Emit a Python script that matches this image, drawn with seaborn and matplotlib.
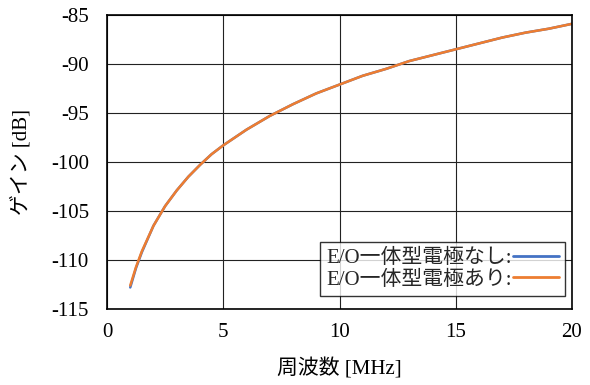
import matplotlib
matplotlib.use("Agg")
import matplotlib.pyplot as plt
import pandas as pd
import seaborn as sns

# Frequency sweep (MHz) and measured gain (dB) for both electrode types
freq_mhz = [1.0, 1.25, 1.5, 2.0, 2.5, 3.0, 3.5, 4.0, 4.5, 5.0, 6.0, 7.0, 8.0, 9.0,
            10.0, 11.0, 12.0, 13.0, 14.0, 15.0, 16.0, 17.0, 18.0, 19.0, 20.0]
gain_without = [-112.8, -110.8, -109.2, -106.5, -104.5, -102.9, -101.5, -100.3, -99.2,
                -98.3, -96.7, -95.3, -94.1, -93.0, -92.1, -91.2, -90.5, -89.7, -89.1,
                -88.5, -87.9, -87.3, -86.8, -86.4, -85.9]
gain_with = [-112.6, -110.7, -109.1, -106.5, -104.5, -102.9, -101.5, -100.3, -99.2,
             -98.3, -96.7, -95.3, -94.1, -93.0, -92.1, -91.2, -90.5, -89.7, -89.1,
             -88.5, -87.9, -87.3, -86.8, -86.4, -85.9]
series_names = ["E/O一体型電極なし:", "E/O一体型電極あり:"]
x_ticks = [0, 5, 10, 15, 20]
y_ticks = [-115, -110, -105, -100, -95, -90, -85]

df = pd.concat([
    pd.DataFrame({"freq": freq_mhz, "gain": gain_without, "series": series_names[0]}),
    pd.DataFrame({"freq": freq_mhz, "gain": gain_with, "series": series_names[1]}),
])

sns.set_theme(style="white")
plt.rcParams["font.family"] = ["Liberation Serif", "Noto Sans CJK JP"]

fig = plt.figure(figsize=(5.9, 3.85), dpi=100)
ax = fig.add_axes([107 / 590, 1 - 309 / 385, 465 / 590, 294 / 385])

sns.lineplot(data=df, x="freq", y="gain", hue="series", hue_order=series_names,
             palette=["#4472C4", "#ED7D31"], linewidth=1.8, ax=ax, legend=True)

fs = 15
ax.set_xlim(0, 20)
ax.set_ylim(-115, -85)
ax.set_xticks(x_ticks)
ax.set_yticks(y_ticks)
ax.set_xticklabels([str(t) for t in x_ticks], fontsize=fs)
ax.set_yticklabels([str(t) for t in y_ticks], fontsize=fs)
ax.tick_params(axis="x", length=0, pad=10, colors="black")
ax.tick_params(axis="y", length=0, pad=13, colors="black")
ax.grid(True, color="#222222", linewidth=0.8)
ax.set_axisbelow(True)
for side in ax.spines.values():
    side.set_visible(True)
    side.set_color("black")
    side.set_linewidth(1.2)

ax.set_xlabel("周波数 [MHz]", fontsize=fs, labelpad=12, color="black")
ax.set_ylabel("ゲイン [dB]", fontsize=fs, labelpad=14, color="black")

leg = ax.legend(loc="lower right", bbox_to_anchor=(0.986, 0.045), markerfirst=False,
                fontsize=fs, frameon=True, fancybox=False, edgecolor="black",
                handlelength=2.2, handletextpad=0.05, borderpad=0.3, labelspacing=0.1,
                borderaxespad=0)
leg.get_frame().set_linewidth(1.0)
for line in leg.get_lines():
    line.set_linewidth(2.0)

fig.savefig("out.png", dpi=100)
